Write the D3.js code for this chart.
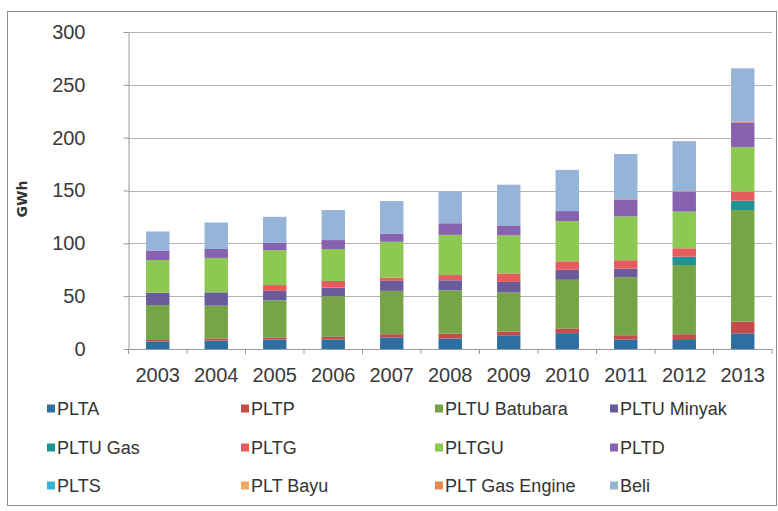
<!DOCTYPE html>
<html>
<head>
<meta charset="utf-8">
<script src="https://cdn.jsdelivr.net/npm/d3@7"></script>
<style>
  html, body { margin: 0; padding: 0; background: #fff; }
  svg { display: block; }
</style>
</head>
<body>
<svg id="chart" width="778" height="511"></svg>
<script>
// Electricity supply by source (GWh), 2003-2013
const years = ["2003", "2004", "2005", "2006", "2007", "2008", "2009", "2010", "2011", "2012", "2013"];
const seriesNames = ["PLTA", "PLTP", "PLTU Batubara", "PLTU Minyak", "PLTU Gas", "PLTG", "PLTGU", "PLTD", "PLTS", "PLT Bayu", "PLT Gas Engine", "Beli"];
const seriesColors = ["#2e6fa1", "#c64b4b", "#76a447", "#6a5c9c", "#1f9393", "#e65c5c", "#8cc852", "#8762ae", "#36b4d6", "#f6a760", "#e8864f", "#95b4d8"];
const yTicks = [0, 50, 100, 150, 200, 250, 300];

const PLTA          = [7, 8, 9, 9, 11, 10, 13, 15, 9, 8.5, 14.8];
const PLTP          = [1.5, 2, 2, 2.5, 3, 4.5, 3.5, 4.5, 4, 5.5, 11.1];
const PLTU_Batubara = [33, 31, 35, 38.5, 41, 41, 37, 46, 55, 65.5, 105.6];
const PLTU_Minyak   = [11.7, 12.6, 9, 8.2, 9.5, 9.5, 10, 9.5, 8, 0, 0];
const PLTU_Gas      = [0, 0, 0, 0, 0, 0, 0, 0, 0, 7.9, 8.9];
const PLTG          = [0, 0, 5.5, 6.2, 3, 5, 8, 8, 8, 7.9, 8.5];
const PLTGU         = [31, 32.6, 33, 30.2, 34, 38, 36, 38, 41.5, 34.7, 42.1];
const PLTD          = [9, 8.5, 7, 8.5, 7.5, 11, 9.5, 9.5, 16, 18.9, 23.4];
const PLTS          = [0, 0, 0, 0, 0, 0, 0, 0, 0, 0, 0];
const PLT_Bayu      = [0, 0, 0, 0, 0, 0, 0, 0, 0, 0, 0];
const PLT_Gas_Engine= [0, 0, 0, 0, 0, 0, 0, 0, 0.5, 0.5, 1];
const Beli          = [18, 25, 24.6, 28.4, 31, 30, 38.5, 39, 42.5, 47.3, 50.2];

const seriesValues = [PLTA, PLTP, PLTU_Batubara, PLTU_Minyak, PLTU_Gas, PLTG, PLTGU, PLTD, PLTS, PLT_Bayu, PLT_Gas_Engine, Beli];

// one row per year, keyed by series name, for d3.stack
const table = years.map((yr, i) => {
  const row = { year: yr };
  seriesNames.forEach((name, s) => { row[name] = seriesValues[s][i]; });
  return row;
});

const svg = d3.select("#chart");
const plot = { left: 128.5, right: 772, top: 32, bottom: 349 };

// outer frame
svg.append("rect")
  .attr("x", 7.5).attr("y", 11.5)
  .attr("width", 769).attr("height", 494)
  .attr("fill", "#fff").attr("stroke", "#8c8c8c").attr("stroke-width", 1);

const x = d3.scaleBand().domain(years)
  .range([plot.left, plot.right])
  .paddingInner(0.6).paddingOuter(0.3);
const y = d3.scaleLinear().domain([0, 300]).range([plot.bottom, plot.top]);

// horizontal gridlines
svg.append("g")
  .selectAll("line")
  .data(yTicks.filter(t => t > 0))
  .join("line")
  .attr("x1", plot.left).attr("x2", plot.right)
  .attr("y1", d => Math.round(y(d)) + 0.5).attr("y2", d => Math.round(y(d)) + 0.5)
  .attr("stroke", "#b4b4b4").attr("stroke-width", 1);

// stacked bars
const stacked = d3.stack().keys(seriesNames)(table);
svg.append("g")
  .selectAll("g")
  .data(stacked)
  .join("g")
  .attr("fill", (d, i) => seriesColors[i])
  .selectAll("rect")
  .data(d => d.filter(p => p[1] - p[0] > 0))
  .join("rect")
  .attr("x", d => x(d.data.year))
  .attr("width", x.bandwidth())
  .attr("y", d => y(d[1]))
  .attr("height", d => y(d[0]) - y(d[1]));

// y axis
const yAxis = svg.append("g")
  .attr("transform", `translate(${plot.left},0)`)
  .call(d3.axisLeft(y).tickValues(yTicks).tickSize(5).tickPadding(38).tickSizeOuter(0));
yAxis.select(".domain").attr("stroke", "#999");
yAxis.selectAll(".tick line").attr("stroke", "#999");
yAxis.selectAll(".tick text")
  .attr("fill", "#3a3a3a")
  .style("font-family", "'Liberation Sans', Arial, sans-serif")
  .style("font-size", "20px");

// x axis with ticks at category boundaries
const xAxis = svg.append("g")
  .attr("transform", `translate(0,${plot.bottom})`)
  .call(d3.axisBottom(x).tickSize(0).tickPadding(19).tickSizeOuter(0));
xAxis.select(".domain").attr("stroke", "#999");
xAxis.selectAll(".tick text")
  .attr("fill", "#3a3a3a")
  .style("font-family", "'Liberation Sans', Arial, sans-serif")
  .style("font-size", "20px");
const step = x.step();
xAxis.selectAll(".boundary")
  .data(d3.range(years.length + 1))
  .join("line")
  .attr("class", "boundary")
  .attr("x1", i => plot.left + i * step).attr("x2", i => plot.left + i * step)
  .attr("y1", 0).attr("y2", 5)
  .attr("stroke", "#999");

// y axis title
svg.append("text")
  .attr("transform", "translate(27,199) rotate(-90)")
  .attr("text-anchor", "middle")
  .attr("fill", "#333")
  .style("font-family", "'DejaVu Sans', sans-serif")
  .style("font-weight", "bold")
  .style("font-size", "14px")
  .text("GWh");

// legend: 4 columns x 3 rows
const legendCols = [47, 241, 435, 610];
const legendRows = [409, 448, 486];
const legend = svg.append("g");
const items = legend.selectAll("g")
  .data(seriesNames)
  .join("g")
  .attr("transform", (d, i) => `translate(${legendCols[i % 4]},${legendRows[Math.floor(i / 4)]})`);
items.append("rect")
  .attr("x", 0).attr("y", -4.5)
  .attr("width", 8).attr("height", 8)
  .attr("fill", (d, i) => seriesColors[i]);
items.append("text")
  .attr("x", 10).attr("y", 0)
  .attr("dy", "0.35em")
  .attr("fill", "#333")
  .style("font-family", "'Liberation Sans', Arial, sans-serif")
  .style("font-size", "18px")
  .text(d => d);
</script>
</body>
</html>
